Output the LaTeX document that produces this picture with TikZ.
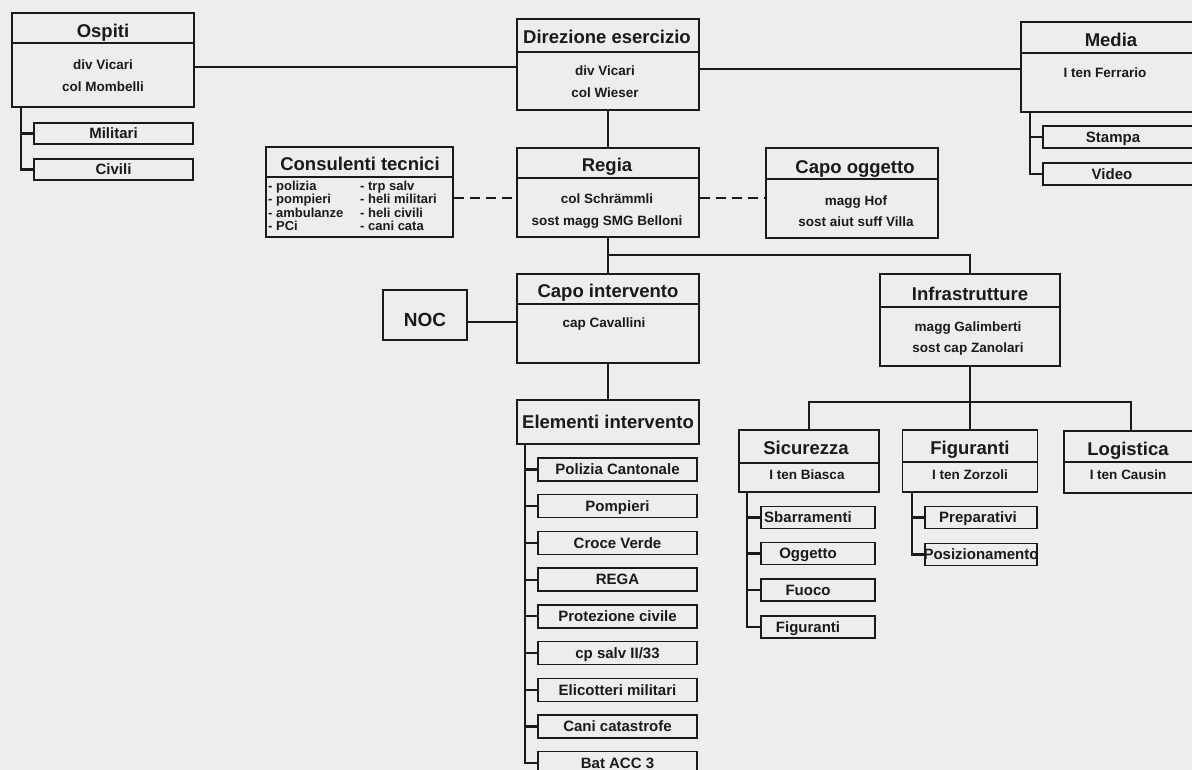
\documentclass[tikz,border=0pt]{standalone}
\usepackage{fontspec}
\setmainfont{Liberation Sans}
\definecolor{ink}{HTML}{1A1A1A}
\definecolor{paper}{HTML}{EDEDED}
\begin{document}
\begin{tikzpicture}[x=1pt,y=-1pt,
  box/.style={draw=ink, line width=1.4pt, rectangle, inner sep=0pt},
  ttl/.style={font=\fontsize{18.5}{20}\selectfont\bfseries, inner sep=0pt, text height=13.3pt, text depth=0pt, text=ink},
  bdy/.style={font=\fontsize{13.5}{15}\selectfont\bfseries, inner sep=0pt, text height=9.7pt, text depth=0pt, text=ink},
  chl/.style={font=\fontsize{15}{17}\selectfont\bfseries, inner sep=0pt, text height=10.7pt, text depth=0pt, text=ink},
  cbox/.style={box, chl, minimum height=22pt},
  conn/.style={draw=ink, line width=2.2pt},
  thin/.style={draw=ink, line width=1.4pt},
  dconn/.style={draw=ink, line width=1.3pt, dash pattern=on 10pt off 6pt},
  divl/.style={draw=ink, line width=1.2pt}]
\fill[paper] (0,0) rectangle (1192,770);
\clip (0,0) rectangle (1192,770);

% ---------- Ospiti ----------
\node[box, minimum width=182pt, minimum height=94pt] (osp) at (103,60) {};
\draw[divl] (osp.west |- 0,43) -- (osp.east |- 0,43);
\node[ttl] (osp-t) at (103,31) {Ospiti};
\node[bdy] (osp-b1) at (103,65) {div Vicari};
\node[bdy] (osp-b2) at (103,86.5) {col Mombelli};
\node[cbox, minimum width=159pt, minimum height=21pt] (mil) at (113.5,133.5) {Militari};
\node[cbox, minimum width=159pt, minimum height=21pt] (civ) at (113.5,169.5) {Civili};
\draw[conn] (osp.south -| 21,0) |- (mil.west);
\draw[conn] (osp.south -| 21,0) |- (civ.west);

% ---------- Direzione esercizio ----------
\node[box, minimum width=182pt, minimum height=91pt] (dir) at (608,64.5) {};
\draw[divl] (dir.west |- 0,52) -- (dir.east |- 0,52);
\node[ttl] (dir-t) at (607,37) {Direzione esercizio};
\node[bdy] (dir-b1) at (605,71) {div Vicari};
\node[bdy] (dir-b2) at (605,93) {col Wieser};

% ---------- Media ----------
\node[box, minimum width=184pt, minimum height=90pt] (med) at (1113,67) {};
\draw[divl] (med.west |- 0,53) -- (med.east |- 0,53);
\node[ttl] (med-t) at (1111,39.5) {Media};
\node[bdy] (med-b1) at (1105,73) {I ten Ferrario};
\node[box, minimum width=162pt, minimum height=22pt] (sta) at (1124,137) {};
\node[chl] (sta-t) at (1113,137) {Stampa};
\node[box, minimum width=162pt, minimum height=22pt] (vid) at (1124,174) {};
\node[chl] (vid-t) at (1112,174) {Video};
\draw[conn] (med.south -| 1030,0) |- (sta.west);
\draw[conn] (med.south -| 1030,0) |- (vid.west);

% top connectors
\draw[conn] (osp.east |- 0,67) -- (dir.west |- 0,67);
\draw[conn] (dir.east |- 0,69) -- (med.west |- 0,69);

% ---------- Regia ----------
\node[box, minimum width=182pt, minimum height=89pt] (reg) at (608,192.5) {};
\draw[divl] (reg.west |- 0,178) -- (reg.east |- 0,178);
\node[ttl] (reg-t) at (607,165) {Regia};
\node[bdy] (reg-b1) at (607,199) {col Schrämmli};
\node[bdy] (reg-b2) at (607,220.5) {sost magg SMG Belloni};
\draw[conn] (dir.south) -- (reg.north);

% ---------- Consulenti tecnici ----------
\node[box, minimum width=187pt, minimum height=90pt] (con) at (359.5,192) {};
\draw[divl] (con.west |- 0,177) -- (con.east |- 0,177);
\node[ttl] (con-t) at (360,164) {Consulenti tecnici};
\node[anchor=north west, inner sep=0pt, text=ink,
      font=\fontsize{13}{13.5}\selectfont\bfseries] (con-l) at (268,180.5)
  {\begin{tabular}{@{}p{92pt}@{}l@{}}
   - polizia & - trp salv\\
   - pompieri & - heli militari\\
   - ambulanze & - heli civili\\
   - PCi & - cani cata
   \end{tabular}};

% ---------- Capo oggetto ----------
\node[box, minimum width=172pt, minimum height=90pt] (cog) at (852,193) {};
\draw[divl] (cog.west |- 0,179) -- (cog.east |- 0,179);
\node[ttl] (cog-t) at (855,167) {Capo oggetto};
\node[bdy] (cog-b1) at (856,200.5) {magg Hof};
\node[bdy] (cog-b2) at (856,221.5) {sost aiut suff Villa};

\draw[dconn] (con.east |- 0,198) -- (reg.west |- 0,198);
\draw[dconn] (reg.east |- 0,198) -- (cog.west |- 0,198);

% ---------- Capo intervento ----------
\node[box, minimum width=182pt, minimum height=89pt] (cap) at (608,318.5) {};
\draw[divl] (cap.west |- 0,304) -- (cap.east |- 0,304);
\node[ttl] (cap-t) at (608,291) {Capo intervento};
\node[bdy] (cap-b1) at (604,323) {cap Cavallini};

% ---------- NOC ----------
\node[box, minimum width=84pt, minimum height=50pt] (noc) at (425,315) {};
\node[ttl, font=\fontsize{19}{21}\selectfont\bfseries] (noc-t) at (425,320) {NOC};
\draw[thin] (noc.east |- 0,322) -- (cap.west |- 0,322);

% ---------- Infrastrutture ----------
\node[box, minimum width=180pt, minimum height=92pt] (inf) at (970,320) {};
\draw[divl] (inf.west |- 0,307) -- (inf.east |- 0,307);
\node[ttl] (inf-t) at (970,294) {Infrastrutture};
\node[bdy] (inf-b1) at (968,327) {magg Galimberti};
\node[bdy] (inf-b2) at (968,348) {sost cap Zanolari};

\coordinate (j1) at (608,255);
\draw[conn] (reg.south) -- (cap.north);
\draw[conn] (reg.south |- j1) -| (inf.north);

% ---------- Elementi intervento ----------
\node[box, ttl, minimum width=182pt, minimum height=44pt] (ele) at (608,422) {Elementi intervento};
\draw[conn] (cap.south) -- (ele.north);
\foreach \t [count=\i] in {Polizia Cantonale, Pompieri, Croce Verde, REGA, Protezione civile, cp salv II/33, Elicotteri militari, Cani catastrofe, Bat ACC 3} {
  \node[cbox, minimum width=159pt, minimum height=23pt] (e\i) at (617.5,{469.5+(\i-1)*36.7}) {\t};
  \draw[conn] (ele.south -| 525,0) |- (e\i.west);
}

% ---------- Sicurezza ----------
\node[box, minimum width=140pt, minimum height=62pt] (sic) at (809,461) {};
\draw[divl] (sic.west |- 0,463) -- (sic.east |- 0,463);
\node[ttl] (sic-t) at (806,447.5) {Sicurezza};
\node[bdy] (sic-b1) at (807,475) {I ten Biasca};

% ---------- Figuranti ----------
\node[box, minimum width=135pt, minimum height=62pt] (fig) at (970,461) {};
\draw[divl] (fig.west |- 0,462) -- (fig.east |- 0,462);
\node[ttl] (fig-t) at (970,447.5) {Figuranti};
\node[bdy] (fig-b1) at (970,475) {I ten Zorzoli};

% ---------- Logistica ----------
\node[box, minimum width=134pt, minimum height=62pt] (log) at (1131,462) {};
\draw[divl] (log.west |- 0,462) -- (log.east |- 0,462);
\node[ttl] (log-t) at (1128,449) {Logistica};
\node[bdy] (log-b1) at (1128,475) {I ten Causin};

\coordinate (j2) at (970,402);
\draw[conn] (inf.south) -- (fig.north);
\draw[conn] (sic.north) |- (j2) -| (log.north);

% Sicurezza children
\foreach \t/\y [count=\i] in {Sbarramenti/517.5, Oggetto/553.5, Fuoco/590, Figuranti/627} {
  \node[box, minimum width=114pt, minimum height=22pt] (s\i) at (818,\y) {};
  \node[chl] (s\i-t) at (808,\y) {\t};
  \draw[conn] (sic.south -| 747,0) |- (s\i.west);
}

% Figuranti children
\foreach \t/\y/\x [count=\i] in {Preparativi/517.5/978, Posizionamento/554.5/981} {
  \node[box, minimum width=112pt, minimum height=22pt] (f\i) at (981,\y) {};
  \node[chl] (f\i-t) at (\x,\y) {\t};
  \draw[conn] (fig.south -| 912,0) |- (f\i.west);
}
\end{tikzpicture}
\end{document}
